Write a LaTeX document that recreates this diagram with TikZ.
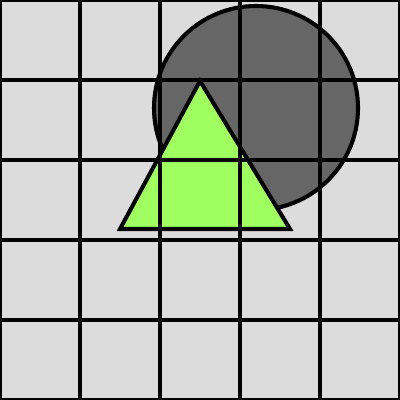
\documentclass[tikz,border=0pt]{standalone}
\definecolor{bgc}{HTML}{DCDCDC}
\definecolor{circc}{HTML}{666666}
\definecolor{trc}{HTML}{A0FF60}
\tikzset{shapeline/.style={draw=black,line width=2.9pt,line join=miter}}
\begin{document}
\begin{tikzpicture}[x=0.025cm,y=-0.025cm]
\useasboundingbox (0,0) rectangle (400,400);
\fill[bgc] (0,0) rectangle (400,400);
\node[circle,shapeline,fill=circc,minimum size=204*0.025cm,inner sep=0pt] (circ) at (256,108) {};
\coordinate (ta) at (200,81);
\coordinate (tl) at (120,229);
\coordinate (tr) at (290,229);
\draw[shapeline,fill=trc] (ta) -- (tl) -- (tr) -- cycle;
\foreach \v in {0,80,160,240,320,400}{
  \draw[black,line width=2.9pt] (\v,0) -- (\v,400);
  \draw[black,line width=2.9pt] (0,\v) -- (400,\v);
}
\end{tikzpicture}
\end{document}
